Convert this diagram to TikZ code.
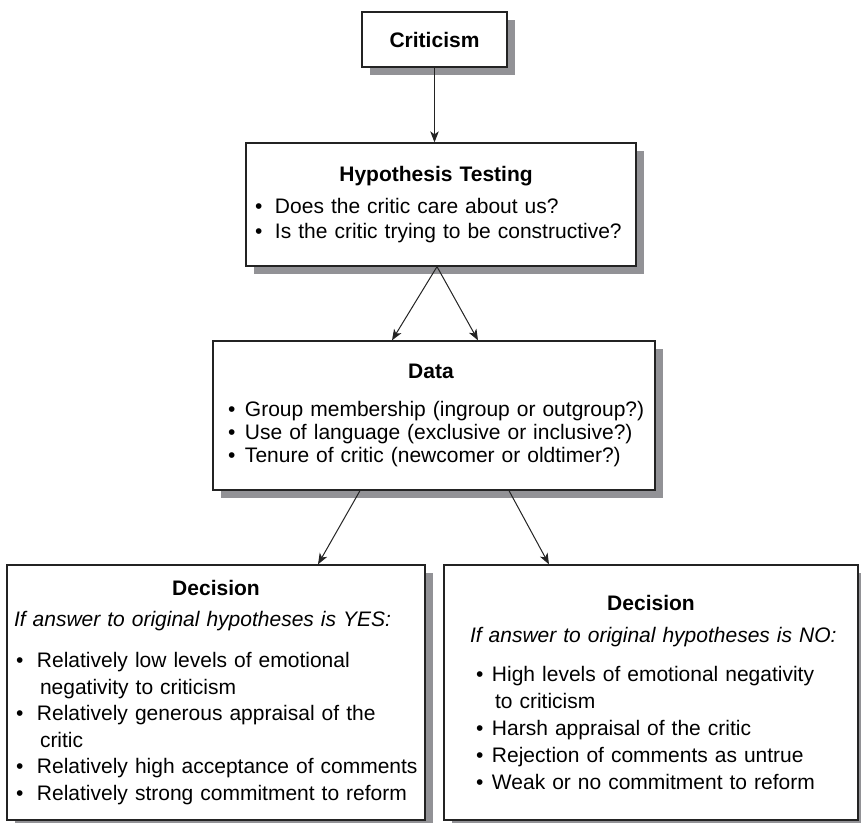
\documentclass[tikz,border=0pt]{standalone}
\usepackage{fontspec}
\setmainfont{Liberation Sans}
\usetikzlibrary{arrows.meta,positioning,shadows}
\definecolor{shadowgray}{RGB}{146,146,150}
\definecolor{linegray}{RGB}{35,35,35}
\tikzstyle{arrow} = [line width=1pt,-{Stealth[length=11pt,width=8.5pt,inset=3pt]},color=linegray]
\tikzstyle{box} = [rectangle, draw=linegray, line width=1.3pt, fill=white, align=left,
    drop shadow={shadow xshift=8pt, shadow yshift=-8pt, fill=shadowgray, opacity=1}]
\hyphenpenalty=10000

\newlength{\bulpre}
\newlength{\bulind}
\newcommand{\bul}[1]{\par\hangindent=\dimexpr\bulpre+\bulind+3pt\relax\hangafter=1
    \noindent\hspace*{\bulpre}\makebox[\bulind][l]{\textbullet}#1}
\newcommand{\boxtitle}[2][0pt]{{\centering\hspace*{#1}\textbf{#2}\par}}

\begin{document}
\begin{tikzpicture}[x=1pt, y=-1pt]
    \useasboundingbox (0,0) rectangle (861,822);

    % Criticism
    \node[box, minimum width=145pt, minimum height=55pt, inner sep=0pt,
          font=\fontsize{21}{25}\selectfont] (crit) at (434.5,39.5) {\textbf{Criticism}};

    % Hypothesis testing
    \node[box, minimum width=390pt, minimum height=123pt, inner xsep=9pt, text width=372pt,
          font=\fontsize{21}{25}\selectfont] (hyp) at (441,204.5)
        {\setlength{\bulpre}{0pt}\setlength{\bulind}{20pt}%
         \vspace*{3pt}\boxtitle[-10pt]{Hypothesis Testing}\vspace{4.5pt}%
         \bul{Does the critic care about us?}%
         \bul{Is the critic trying to be constructive?}};

    % Data
    \node[box, minimum width=442pt, minimum height=149pt, inner xsep=8pt, text width=426pt,
          font=\fontsize{21}{23}\selectfont] (data) at (434,415.5)
        {\setlength{\bulpre}{7pt}\setlength{\bulind}{17pt}%
         \vspace*{3pt}\boxtitle[-6pt]{Data}\vspace{12.5pt}%
         \bul{Group membership (ingroup or outgroup?)}%
         \bul{Use of language (exclusive or inclusive?)}%
         \bul{Tenure of critic (newcomer or oldtimer?)}};

    % Decision, yes
    \node[box, minimum width=418pt, minimum height=255pt, inner xsep=7pt, text width=404pt,
          font=\fontsize{21}{26.5}\selectfont] (yes) at (216,692.5)
        {\setlength{\bulpre}{2pt}\setlength{\bulind}{21pt}%
         \boxtitle{Decision}\vspace{5pt}%
         \noindent\textit{If answer to original hypotheses is YES:}\par\vspace{14.5pt}%
         \bul{Relatively low levels of emotional\newline negativity to criticism}%
         \bul{Relatively generous appraisal of the\newline critic}%
         \bul{Relatively high acceptance of comments}%
         \bul{Relatively strong commitment to reform}};

    % Decision, no
    \node[box, minimum width=414pt, minimum height=255pt, inner xsep=22pt, text width=370pt,
          font=\fontsize{21}{27}\selectfont] (no) at (651,692.5)
        {\setlength{\bulpre}{10pt}\setlength{\bulind}{16pt}%
         \boxtitle{Decision}\vspace{5.5pt}%
         \noindent\hspace*{4pt}\mbox{\textit{If answer to original hypotheses is NO:}}\par\vspace{12pt}%
         \bul{High levels of emotional negativity\newline to criticism}%
         \bul{Harsh appraisal of the critic}%
         \bul{Rejection of comments as untrue}%
         \bul{Weak or no commitment to reform}};

    % Connectors
    \draw[arrow] (crit.south) -- (crit.south |- hyp.north);
    \draw[arrow] ([xshift=-4pt]hyp.south) -- ([xshift=-42pt]data.north);
    \draw[arrow] ([xshift=-4pt]hyp.south) -- ([xshift=44pt]data.north);
    \draw[arrow] ([xshift=-74pt]data.south) -- ([xshift=102pt]yes.north);
    \draw[arrow] ([xshift=75pt]data.south) -- ([xshift=-102pt]no.north);
\end{tikzpicture}
\end{document}
